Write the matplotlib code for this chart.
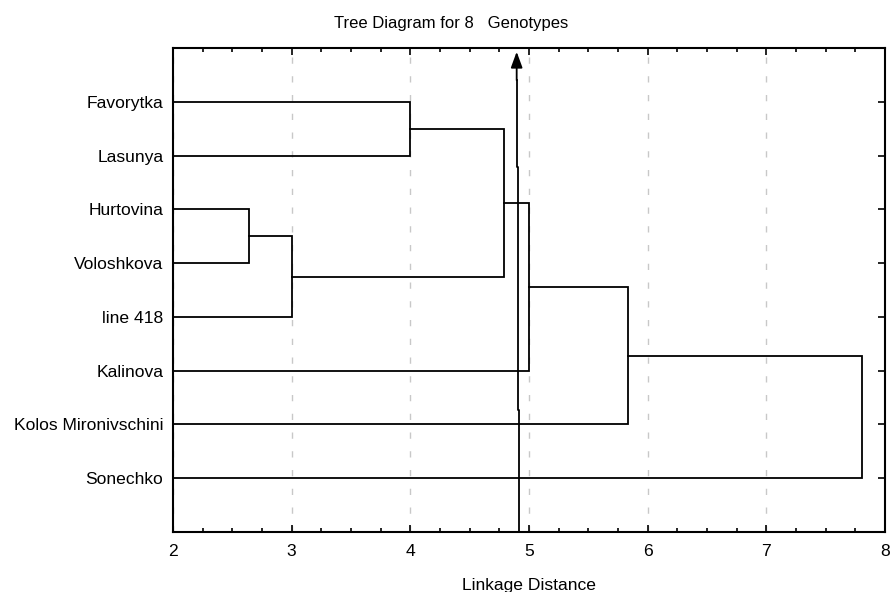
import numpy as np
import matplotlib.pyplot as plt
from matplotlib.ticker import MultipleLocator

# leaves (top to bottom) and the merges: child a, child b, linkage distance
labels = ["Favorytka", "Lasunya", "Hurtovina", "Voloshkova", "line 418",
          "Kalinova", "Kolos Mironivschini", "Sonechko"]
merge_a = [2, 8, 0, 10, 11, 12, 13]
merge_b = [3, 4, 1, 9, 5, 6, 7]
merge_h = [2.64, 3.0, 4.0, 4.79, 5.0, 5.83, 7.81]

# hand-drawn arrow on the original
arrow_x = [4.915, 4.915, 4.903, 4.903, 4.896, 4.896]
arrow_y = [9.0, 6.74, 6.74, 2.22, 2.22, 0.6]

plt.rcParams['font.family'] = ['Liberation Sans', 'DejaVu Sans']

fig = plt.figure(figsize=(8.9, 5.92), dpi=100)
ax = fig.add_axes([0.1944, 0.1014, 0.8, 0.8175])

xmin, xmax = 2, 8
n = len(labels)
pos = {i: i + 1 for i in range(n)}
hgt = {i: xmin for i in range(n)}

for k, (a, b, h) in enumerate(zip(merge_a, merge_b, merge_h)):
    ya, yb = pos[a], pos[b]
    ax.plot([hgt[a], h, h, hgt[b]], [ya, ya, yb, yb], color='black', lw=1.3,
            solid_joinstyle='miter', zorder=3)
    new = n + k
    pos[new] = (ya + yb) / 2
    hgt[new] = h

ax.plot(arrow_x, arrow_y, color='black', lw=1.3, zorder=4)
ax.annotate('', xy=(arrow_x[-1], 0.07), xytext=(arrow_x[-1], arrow_y[-1]),
            arrowprops=dict(arrowstyle='-|>,head_length=0.6,head_width=0.22',
                            color='black', lw=1.3, mutation_scale=16,
                            shrinkA=0, shrinkB=0), zorder=4)

ax.set_xlim(xmin, xmax)
ax.set_ylim(n + 1, 0)
ax.set_yticks(range(1, n + 1))
ax.set_yticklabels(labels, fontsize=12.6)
ax.tick_params(axis='y', left=False, right=True, direction='in', length=5,
               width=1.2, labelleft=True, pad=7)

ax.xaxis.set_major_locator(MultipleLocator(1))
ax.xaxis.set_minor_locator(MultipleLocator(0.25))
ax.tick_params(axis='x', which='both', top=True, bottom=True, direction='in',
               width=1.2, labelsize=12.6, pad=9)
ax.tick_params(axis='x', which='major', length=5)
ax.tick_params(axis='x', which='minor', length=3)

ax.grid(axis='x', which='major', color='#c8c8c8', lw=1.0, dashes=(4.5, 9))
for s in ax.spines.values():
    s.set_linewidth(1.5)

ax.set_xlabel('Linkage Distance', fontsize=12.6, labelpad=13)
fig.text(0.507, 0.961, 'Tree Diagram for 8   Genotypes', ha='center',
         va='center', fontsize=12)

fig.savefig('out.png', dpi=100)
